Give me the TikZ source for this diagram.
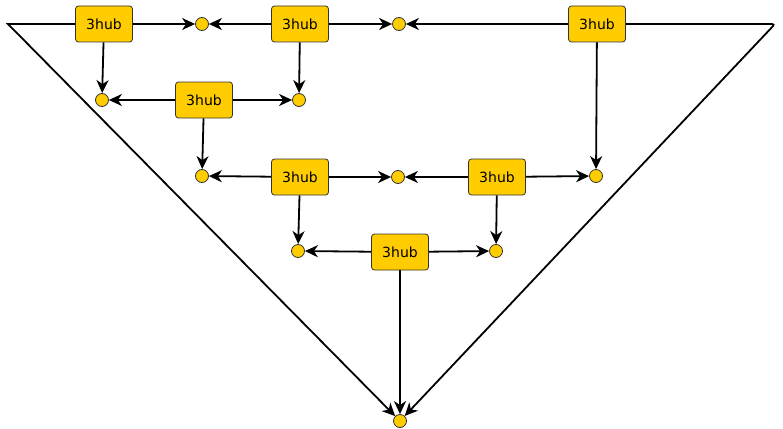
\documentclass[tikz,border=0pt]{standalone}
\usepackage{fontspec}
\setmainfont{DejaVu Sans}
\usetikzlibrary{arrows.meta}
\definecolor{hubyellow}{HTML}{FFCC00}

\begin{document}
\begin{tikzpicture}[x=1pt,y=-1pt,
  hub/.style={rectangle,draw=black!80,thick,rounded corners=3pt,
              fill=hubyellow,minimum width=57pt,minimum height=36pt,
              font=\fontsize{14}{16}\selectfont},
  dot/.style={circle,draw=black!80,thick,fill=hubyellow,
              inner sep=0pt,minimum size=13pt},
  link/.style={-{Stealth[length=13pt,width=12pt,inset=4pt]},
               line width=1.8pt}]
\useasboundingbox (0,0) rectangle (783,428);

% hubs
\node[hub] (hA) at (104,24)  {3hub};
\node[hub] (hB) at (300,24)  {3hub};
\node[hub] (hC) at (597,24)  {3hub};
\node[hub] (hD) at (204,100) {3hub};
\node[hub] (hE) at (300,177) {3hub};
\node[hub] (hF) at (497,177) {3hub};
\node[hub] (hG) at (400,252) {3hub};

% small junctions
\node[dot] (c1)  at (202,24)  {};
\node[dot] (c2)  at (399,24)  {};
\node[dot] (c3)  at (102,100) {};
\node[dot] (c4)  at (299,100) {};
\node[dot] (c5)  at (202,176) {};
\node[dot] (c6)  at (398,177) {};
\node[dot] (c7)  at (596,176) {};
\node[dot] (c8)  at (298,251) {};
\node[dot] (c9)  at (496,251) {};
\node[dot] (c10) at (400,421) {};

\coordinate (cornL) at (8,24);
\coordinate (cornR) at (775,24);

\draw[link] (hA) -- (c1);
\draw[link] (hB) -- (c1);
\draw[link] (hB) -- (c2);
\draw[link] (hC) -- (c2);
\draw[link] (hA) -- (c3);
\draw[link] (hB) -- (c4);
\draw[link] (hD) -- (c3);
\draw[link] (hD) -- (c4);
\draw[link] (hD) -- (c5);
\draw[link] (hC) -- (c7);
\draw[link] (hE) -- (c5);
\draw[link] (hE) -- (c6);
\draw[link] (hF) -- (c6);
\draw[link] (hF) -- (c7);
\draw[link] (hE) -- (c8);
\draw[link] (hF) -- (c9);
\draw[link] (hG) -- (c8);
\draw[link] (hG) -- (c9);
\draw[link] (hG) -- (c10);
\draw[link] (hA.west) -- (cornL) -- (c10);
\draw[link,rounded corners=3pt] (hC.east) -- (cornR) -- (c10);
\end{tikzpicture}
\end{document}
